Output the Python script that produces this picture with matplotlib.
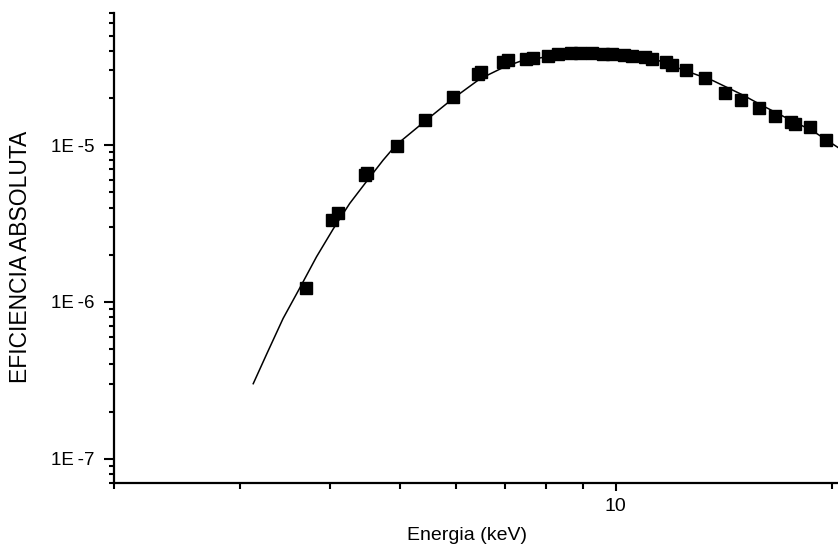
import matplotlib
matplotlib.use('Agg')
import matplotlib.pyplot as plt
from matplotlib.ticker import LogLocator, NullFormatter, FixedLocator, FixedFormatter

plt.rcParams['font.family'] = ['Liberation Sans', 'DejaVu Sans']

# measured efficiency points (energy keV, absolute efficiency)
energia = [3.70, 4.03, 4.10, 4.47, 4.51, 4.95, 5.42, 5.93, 6.43, 6.50, 6.96, 7.07,
           7.49, 7.66, 8.05, 8.31, 8.65, 8.93, 9.27, 9.60, 9.89, 10.26, 10.55, 10.97,
           11.25, 11.74, 11.96, 12.51, 13.32, 14.20, 14.96, 15.83, 16.65, 17.57, 17.76,
           18.63, 19.66]
eficiencia = [1.235e-6, 3.35e-6, 3.67e-6, 6.42e-6, 6.68e-6, 9.93e-6, 1.453e-5, 2.02e-5,
              2.85e-5, 2.92e-5, 3.38e-5, 3.48e-5, 3.56e-5, 3.60e-5, 3.70e-5, 3.79e-5,
              3.85e-5, 3.89e-5, 3.85e-5, 3.83e-5, 3.79e-5, 3.74e-5, 3.70e-5, 3.63e-5,
              3.54e-5, 3.39e-5, 3.26e-5, 3.03e-5, 2.68e-5, 2.145e-5, 1.94e-5, 1.735e-5,
              1.53e-5, 1.40e-5, 1.37e-5, 1.30e-5, 1.08e-5]

# fitted curve
ajuste_x = [3.126, 3.263, 3.44, 3.63, 3.83, 4.04, 4.26, 4.50, 4.74, 4.94, 5.42, 5.93,
            6.47, 7.0, 7.35, 8.0, 8.7, 9.3, 10.0, 10.6, 11.3, 12.3, 13.66, 15.0, 16.0,
            17.5, 18.8, 20.4]
ajuste_y = [3.01e-7, 4.64e-7, 7.84e-7, 1.229e-6, 1.943e-6, 2.92e-6, 4.25e-6, 5.90e-6,
            8.01e-6, 1.0e-5, 1.42e-5, 1.98e-5, 2.65e-5, 3.16e-5, 3.42e-5, 3.66e-5,
            3.80e-5, 3.84e-5, 3.81e-5, 3.73e-5, 3.56e-5, 3.07e-5, 2.58e-5, 2.10e-5,
            1.79e-5, 1.45e-5, 1.235e-5, 9.67e-6]

y_ticks = [1e-7, 1e-6, 1e-5]
y_labels = ['1E\u2009-7', '1E\u2009-6', '1E\u2009-5']

fig = plt.figure(figsize=(8.38, 5.54), dpi=100)
ax = fig.add_axes([114 / 838, 1 - 483 / 554, (838 - 114) / 838, (483 - 12.7) / 554])

ax.plot(ajuste_x, ajuste_y, color='black', lw=1.1, zorder=2)
ax.plot(energia, eficiencia, 's', color='black', ms=8, zorder=3)

ax.set_xscale('log')
ax.set_yscale('log')
ax.set_xlim(2, 20.4)
ax.set_ylim(7e-8, 7e-5)

ax.spines['top'].set_visible(False)
ax.spines['right'].set_visible(False)
for s in ['left', 'bottom']:
    ax.spines[s].set_linewidth(1.6)

ax.xaxis.set_major_locator(FixedLocator([10]))
ax.xaxis.set_major_formatter(FixedFormatter(['10']))
ax.xaxis.set_minor_locator(FixedLocator([2, 3, 4, 5, 6, 7, 8, 9, 20]))
ax.xaxis.set_minor_formatter(NullFormatter())

ax.yaxis.set_major_locator(FixedLocator(y_ticks))
ax.yaxis.set_major_formatter(FixedFormatter(y_labels))
ax.yaxis.set_minor_locator(LogLocator(base=10, subs=range(2, 10)))
ax.yaxis.set_minor_formatter(NullFormatter())

ax.tick_params(which='both', direction='out', width=1.5, labelsize=14)
ax.tick_params(axis='y', which='major', length=7, pad=7, labelsize=13.5)
ax.tick_params(axis='y', which='minor', length=3.6)
ax.tick_params(axis='x', which='major', length=6, pad=5)
ax.tick_params(axis='x', which='minor', length=4)

fig.text(467 / 838, 1 - 535 / 554, 'Energia (keV)', ha='center', va='center', fontsize=14)
fig.text(21 / 838, 1 - 257 / 554, 'EFICIENCIA ABSOLUTA', ha='center', va='center',
         rotation=90, fontsize=16.5)

fig.savefig('out.png', dpi=100)
